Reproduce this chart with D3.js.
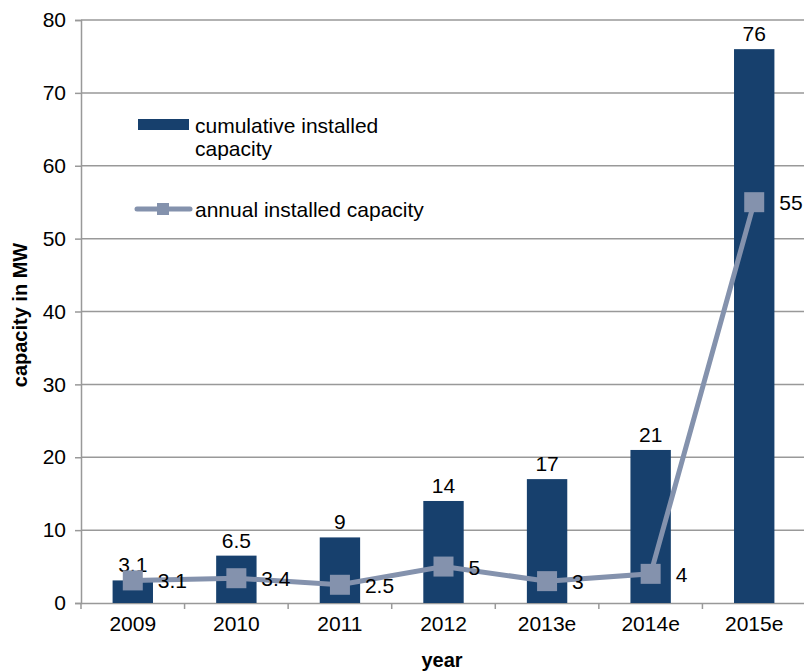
<!DOCTYPE html>
<html>
<head>
<meta charset="utf-8">
<script src="https://cdn.jsdelivr.net/npm/d3@7"></script>
<style>
  body { margin: 0; background: #fff; }
  svg { font-family: "Liberation Sans", Arial, sans-serif; }
</style>
</head>
<body>
<svg id="chart" width="804" height="672"></svg>
<script>
var years = ["2009", "2010", "2011", "2012", "2013e", "2014e", "2015e"];
var cumulative = [3.1, 6.5, 9, 14, 17, 21, 76];
var annual = [3.1, 3.4, 2.5, 5, 3, 4, 55];
var yTicks = [0, 10, 20, 30, 40, 50, 60, 70, 80];

var barColor = "#17406d";
var lineColor = "#8492ad";
var gridColor = "#999999";
var fs = 21;

var svg = d3.select("#chart");
var margin = {top: 20, right: -2, bottom: 69, left: 81};
var width = 804 - margin.left - margin.right;
var height = 672 - margin.top - margin.bottom;

var g = svg.append("g")
  .attr("transform", "translate(" + margin.left + "," + margin.top + ")");

var x = d3.scaleBand().domain(years).range([0, width]).paddingInner(0).paddingOuter(0);
var y = d3.scaleLinear().domain([0, 80]).range([height, 0]);

// gridlines
g.selectAll("line.grid").data(yTicks.slice(1)).enter()
  .append("line")
  .attr("class", "grid")
  .attr("x1", 0).attr("x2", width)
  .attr("y1", function(d) { return y(d); })
  .attr("y2", function(d) { return y(d); })
  .attr("stroke", gridColor).attr("stroke-width", 1.5);

// y axis
var yAxis = g.append("g")
  .call(d3.axisLeft(y).tickValues(yTicks).tickSize(6).tickPadding(9));
yAxis.select(".domain").attr("stroke", gridColor).attr("stroke-width", 1.5);
yAxis.selectAll(".tick line").attr("stroke", gridColor).attr("stroke-width", 1.5);
yAxis.selectAll("text").attr("font-size", fs).attr("fill", "#000")
  .attr("font-family", "'Liberation Sans', Arial, sans-serif");

// x axis
var xAxis = g.append("g")
  .attr("transform", "translate(0," + height + ")")
  .call(d3.axisBottom(x).tickSize(0).tickPadding(13));
xAxis.select(".domain").attr("stroke", gridColor).attr("stroke-width", 1.5);
xAxis.selectAll("text").attr("font-size", fs).attr("fill", "#000")
  .attr("font-family", "'Liberation Sans', Arial, sans-serif");
// category separators
g.selectAll("line.sep").data(d3.range(years.length + 1)).enter()
  .append("line")
  .attr("class", "sep")
  .attr("x1", function(i) { return i * x.bandwidth(); })
  .attr("x2", function(i) { return i * x.bandwidth(); })
  .attr("y1", height).attr("y2", height + 6)
  .attr("stroke", gridColor).attr("stroke-width", 1.5);

// bars
var barW = x.bandwidth() * 0.39;
g.selectAll("rect.bar").data(cumulative).enter()
  .append("rect")
  .attr("class", "bar")
  .attr("x", function(d, i) { return x(years[i]) + x.bandwidth() / 2 - barW / 2; })
  .attr("y", function(d) { return y(d); })
  .attr("width", barW)
  .attr("height", function(d) { return height - y(d); })
  .attr("fill", barColor);

// bar labels
g.selectAll("text.barlab").data(cumulative).enter()
  .append("text")
  .attr("class", "barlab")
  .attr("x", function(d, i) { return x(years[i]) + x.bandwidth() / 2; })
  .attr("y", function(d) { return y(d) - 8; })
  .attr("text-anchor", "middle")
  .attr("font-size", fs)
  .text(function(d) { return d; });

// line
var cx = function(d, i) { return x(years[i]) + x.bandwidth() / 2; };
var line = d3.line()
  .x(function(d, i) { return cx(d, i); })
  .y(function(d) { return y(d); });
g.append("path").datum(annual)
  .attr("d", line)
  .attr("fill", "none")
  .attr("stroke", lineColor)
  .attr("stroke-width", 5);

var ms = 20;
g.selectAll("rect.marker").data(annual).enter()
  .append("rect")
  .attr("class", "marker")
  .attr("x", function(d, i) { return cx(d, i) - ms / 2; })
  .attr("y", function(d) { return y(d) - ms / 2; })
  .attr("width", ms).attr("height", ms)
  .attr("fill", lineColor);

g.selectAll("text.linelab").data(annual).enter()
  .append("text")
  .attr("class", "linelab")
  .attr("x", function(d, i) { return cx(d, i) + 25; })
  .attr("y", function(d) { return y(d) + 8; })
  .attr("font-size", fs)
  .text(function(d) { return d; });

// axis titles
svg.append("text")
  .attr("transform", "translate(27,315) rotate(-90)")
  .attr("text-anchor", "middle")
  .attr("font-size", 20).attr("font-weight", "bold")
  .text("capacity in MW");
svg.append("text")
  .attr("x", 442).attr("y", 667)
  .attr("text-anchor", "middle")
  .attr("font-size", 20).attr("font-weight", "bold")
  .text("year");

// legend
var leg = svg.append("g");
leg.append("rect")
  .attr("x", 138).attr("y", 119).attr("width", 51).attr("height", 11)
  .attr("fill", barColor);
leg.append("text").attr("x", 195).attr("y", 133).attr("font-size", fs)
  .text("cumulative installed");
leg.append("text").attr("x", 195).attr("y", 156).attr("font-size", fs)
  .text("capacity");
leg.append("line")
  .attr("x1", 137).attr("x2", 190).attr("y1", 209).attr("y2", 209)
  .attr("stroke", lineColor).attr("stroke-width", 5).attr("stroke-linecap", "round");
leg.append("rect")
  .attr("x", 157).attr("y", 203).attr("width", 12).attr("height", 12)
  .attr("fill", lineColor);
leg.append("text").attr("x", 195).attr("y", 217).attr("font-size", fs)
  .text("annual installed capacity");
</script>
</body>
</html>
